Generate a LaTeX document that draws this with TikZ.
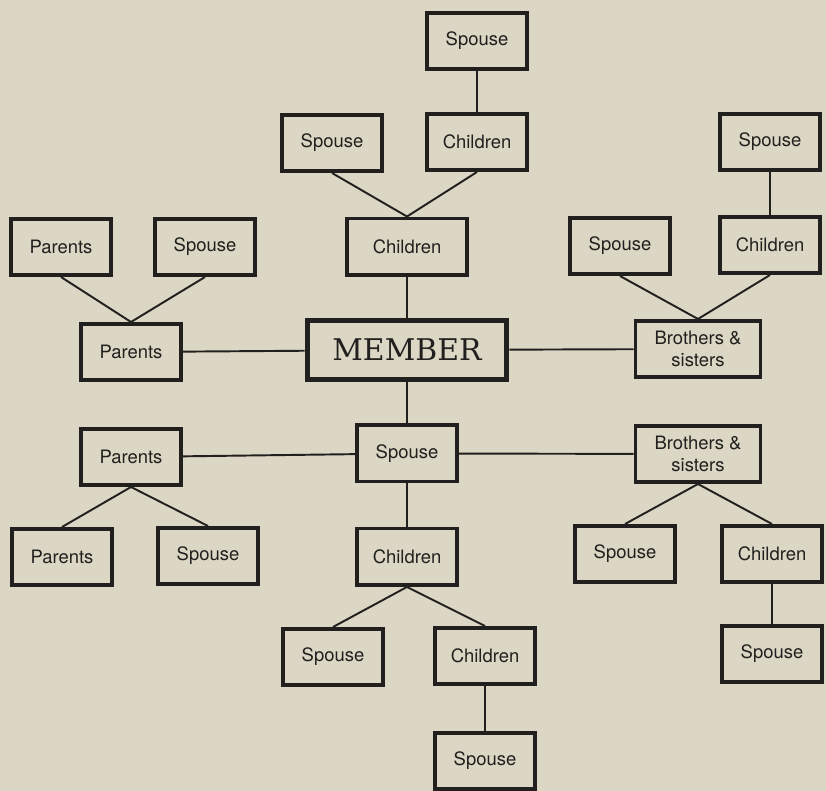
\documentclass[tikz,border=0pt]{standalone}
\usepackage{fontspec}
\setsansfont{TeX Gyre Heros}
\newfontfamily\memberfont{DejaVu Serif}
\usepackage{tikz}
\usetikzlibrary{positioning}
\definecolor{paper}{RGB}{219,215,196}
\definecolor{ink}{RGB}{34,32,30}

\begin{document}
\begin{tikzpicture}[x=0.02cm, y=-0.02cm]
    % page = 826 x 791 px, one unit = one px
    \useasboundingbox (0,0) rectangle (826,791);
    \fill[paper] (0,0) rectangle (826,791);
    \tikzstyle{every node}=[rectangle, draw=ink, fill=paper, line width=2pt, text=ink,
        minimum width=2.01cm, minimum height=1.13cm, inner sep=2pt, align=center,
        font=\sffamily\fontsize{10.5}{12.5}\selectfont, node distance=2.07cm]
    \tikzstyle{every edge}=[draw=ink, line width=1.1pt]
    \node[line width=2.85pt, minimum width=4cm, minimum height=1.18cm,
        font=\memberfont\fontsize{17}{20}\selectfont] (mem) at (407,350) {MEMBER};
    % upper half
    \node[minimum width=2.41cm] (chc) [above of = mem] {Children};
    \node (spu) at (332,143) {Spouse};
    \node (cht) at (477,142) {Children};
    \node (spt) at (477,41) {Spouse};
    \node (ptl) at (61,247) {Parents};
    \node (stl) at (205,247) {Spouse};
    \node (pmu) at (131,352) {Parents};
    \node[minimum width=2.51cm] (bsu) at (698,349) {Brothers \&\\sisters};
    \node (spr) at (620,246) {Spouse};
    \node (chr) at (770,245) {Children};
    \node (str) at (770,142) {Spouse};
    % lower half
    \node (spl) [below of = mem] {Spouse};
    \node (pml) at (131,457) {Parents};
    \node (pbl) at (62,557) {Parents};
    \node (sbl) at (208,556) {Spouse};
    \node[minimum width=2.51cm] (bsl) at (698,454) {Brothers \&\\sisters};
    \node (sps) at (625,554) {Spouse};
    \node (chs) at (772,554) {Children};
    \node (sbr) at (772,654) {Spouse};
    \node (chl) [below of = spl] {Children};
    \node (spd) at (333,657) {Spouse};
    \node (chd) at (485,656) {Children};
    \node (spb) at (485,761) {Spouse};

    \draw (spt) edge (cht);
    \draw (spu.south) edge (chc.north) (cht.south) edge (chc.north);
    \draw (chc) edge (mem);
    \draw (ptl.south) edge (pmu.north) (stl.south) edge (pmu.north);
    \draw (pmu) edge (mem) (mem) edge (bsu);
    \draw (spr.south) edge (bsu.north) (chr.south) edge (bsu.north);
    \draw (str) edge (chr);
    \draw (mem) edge (spl);
    \draw (pml) edge (spl) (spl) edge (bsl);
    \draw (pml.south) edge (pbl.north) (pml.south) edge (sbl.north);
    \draw (spl) edge (chl);
    \draw (chl.south) edge (spd.north) (chl.south) edge (chd.north);
    \draw (chd) edge (spb);
    \draw (bsl.south) edge (sps.north) (bsl.south) edge (chs.north);
    \draw (chs) edge (sbr);
\end{tikzpicture}
\end{document}
